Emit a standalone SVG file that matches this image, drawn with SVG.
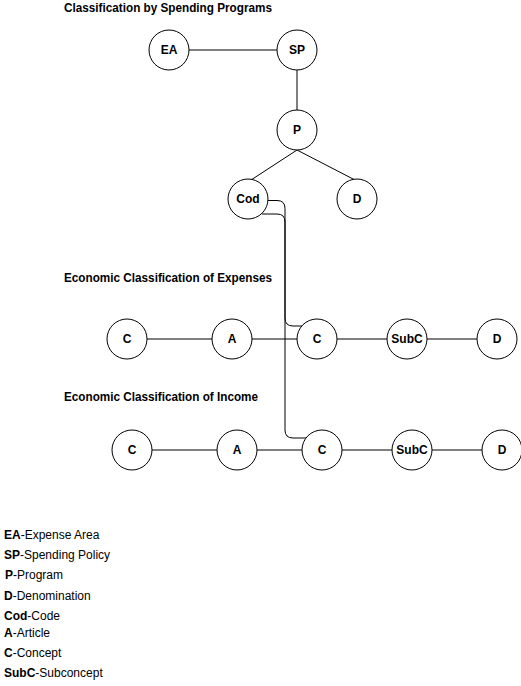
<svg xmlns="http://www.w3.org/2000/svg" width="521" height="686" viewBox="0 0 521 686">
<style>
.n circle{fill:#fff;stroke:#000;stroke-width:1}
.n text{font-family:"Liberation Sans",Arial,sans-serif;font-size:12px;font-weight:bold;text-anchor:middle;dominant-baseline:central;fill:#000}
.t{font-family:"Liberation Sans",Arial,sans-serif;font-size:12px;font-weight:bold;fill:#000}
.l{font-family:"Liberation Sans",Arial,sans-serif;font-size:12px;fill:#000}
.l tspan.b{font-weight:bold}
#edges path,#edges line{stroke:#000;stroke-width:1;fill:none}
</style>
<rect width="521" height="686" fill="#fff"/>
<text class="t" x="64" y="12" textLength="208" lengthAdjust="spacingAndGlyphs">Classification by Spending Programs</text>
<text class="t" x="64" y="282" textLength="208" lengthAdjust="spacingAndGlyphs">Economic Classification of Expenses</text>
<text class="t" x="64" y="401" textLength="194" lengthAdjust="spacingAndGlyphs">Economic Classification of Income</text>
<g id="edges">
<line x1="189" y1="50" x2="277" y2="50"/>
<line x1="297" y1="70" x2="297" y2="110"/>
<line x1="297" y1="150" x2="251" y2="180"/>
<line x1="297" y1="150" x2="355" y2="180"/>
<line x1="147" y1="339" x2="212" y2="339"/>
<line x1="252" y1="339" x2="297" y2="339"/>
<line x1="337" y1="339" x2="387" y2="339"/>
<line x1="427" y1="339" x2="477" y2="339"/>
<line x1="152" y1="450" x2="217" y2="450"/>
<line x1="257" y1="450" x2="302" y2="450"/>
<line x1="342" y1="450" x2="392" y2="450"/>
<line x1="432" y1="450" x2="482" y2="450"/>
<path d="M267.5,200.5 H277 Q285,200.5 285,208.5 V318 Q285,326 293,326 H302"/>
<path d="M262,214 H277 Q285,214 285,222 V430 Q285,438 293,438 H306"/>
</g>
<g id="EA" class="n"><circle cx="169" cy="50" r="20"/><text x="169" y="50">EA</text></g>
<g id="SP" class="n"><circle cx="297" cy="50" r="20"/><text x="297" y="50">SP</text></g>
<g id="P" class="n"><circle cx="297" cy="130" r="20"/><text x="297" y="130">P</text></g>
<g id="Cod" class="n"><circle cx="248" cy="199" r="20"/><text x="248" y="199">Cod</text></g>
<g id="D1" class="n"><circle cx="357" cy="199" r="20"/><text x="357" y="199">D</text></g>
<g id="EC" class="n"><circle cx="127" cy="339" r="20"/><text x="127" y="339">C</text></g>
<g id="EA2" class="n"><circle cx="232" cy="339" r="20"/><text x="232" y="339">A</text></g>
<g id="EC2" class="n"><circle cx="317" cy="339" r="20"/><text x="317" y="339">C</text></g>
<g id="ESubC" class="n"><circle cx="407" cy="339" r="20"/><text x="407" y="339">SubC</text></g>
<g id="ED" class="n"><circle cx="497" cy="339" r="20"/><text x="497" y="339">D</text></g>
<g id="IC" class="n"><circle cx="132" cy="450" r="20"/><text x="132" y="450">C</text></g>
<g id="IA" class="n"><circle cx="237" cy="450" r="20"/><text x="237" y="450">A</text></g>
<g id="IC2" class="n"><circle cx="322" cy="450" r="20"/><text x="322" y="450">C</text></g>
<g id="ISubC" class="n"><circle cx="412" cy="450" r="20"/><text x="412" y="450">SubC</text></g>
<g id="ID" class="n"><circle cx="502" cy="450" r="20"/><text x="502" y="450">D</text></g>
<g id="legend">
<text class="l" x="4" y="539"><tspan class="b">EA</tspan>-Expense Area</text>
<text class="l" x="4" y="559"><tspan class="b">SP</tspan>-Spending Policy</text>
<text class="l" x="5" y="579"><tspan class="b">P</tspan>-Program</text>
<text class="l" x="4" y="600"><tspan class="b">D</tspan>-Denomination</text>
<text class="l" x="4" y="620"><tspan class="b">Cod</tspan>-Code</text>
<text class="l" x="4" y="637"><tspan class="b">A</tspan>-Article</text>
<text class="l" x="4" y="657"><tspan class="b">C</tspan>-Concept</text>
<text class="l" x="4" y="677"><tspan class="b">SubC</tspan>-Subconcept</text>
</g>
</svg>
